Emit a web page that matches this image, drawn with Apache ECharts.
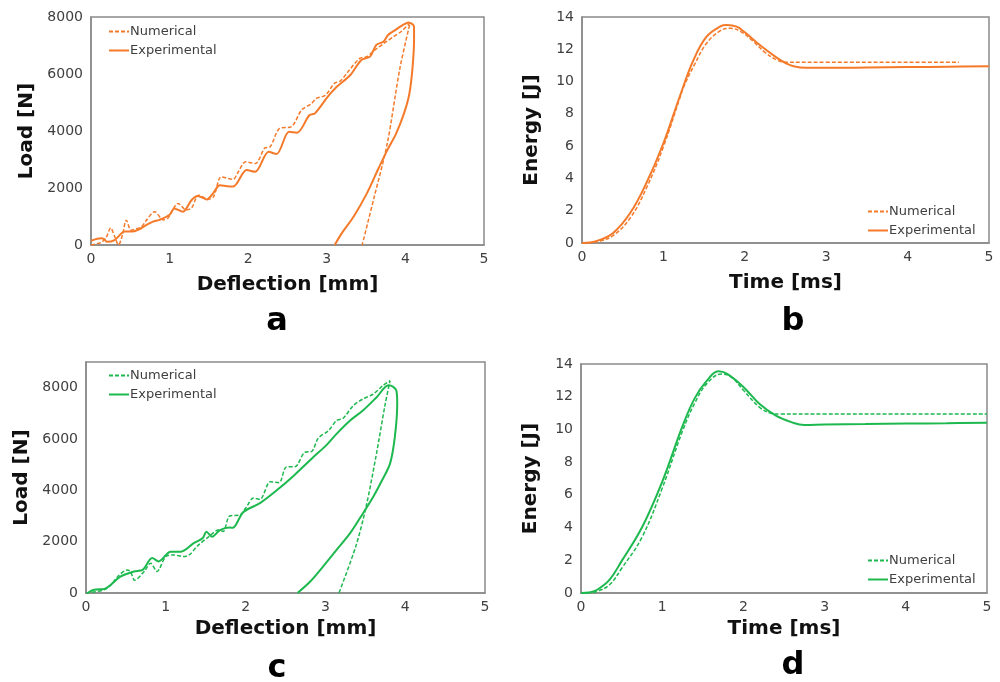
<!DOCTYPE html>
<html>
<head>
<meta charset="utf-8">
<script src="https://cdn.jsdelivr.net/npm/echarts@6/dist/echarts.min.js"></script>
<style>
  html, body { margin: 0; padding: 0; background: #fff; }
  #wrap { position: relative; width: 1000px; height: 682px; }
  .c { position: absolute; width: 500px; height: 341px; }
</style>
</head>
<body>
<div id="wrap">
  <div id="ca" class="c" style="left:0;top:0"></div>
  <div id="cb" class="c" style="left:500px;top:0"></div>
  <div id="cc" class="c" style="left:0;top:341px"></div>
  <div id="cd" class="c" style="left:500px;top:341px"></div>
</div>
<script>
// ---------- Data ----------
// (a) Load vs deflection, orange
const aNumX = [0,0.12,0.19,0.25,0.30,0.35,0.40,0.45,0.51,0.57,0.64,0.70,0.81,0.92,0.98,1.11,1.21,1.28,1.37,1.49,1.56,1.66,1.81,1.86,1.97,2.09,2.21,2.28,2.40,2.55,2.68,2.80,2.87,2.98,3.10,3.17,3.27,3.42,3.51,3.61,3.73,3.85,3.95,4.06,3.93,3.77,3.60,3.45];
const aNumY = [0,80,250,600,300,0,350,870,520,560,640,850,1170,880,950,1460,1230,1300,1750,1600,1700,2390,2300,2500,2920,2860,3400,3450,4090,4150,4740,4950,5150,5250,5680,5750,6080,6550,6610,6840,7080,7310,7500,7800,6200,3570,1650,0];
const aExpX = [0,0.13,0.17,0.20,0.30,0.43,0.53,0.62,0.70,0.79,0.87,1.00,1.06,1.17,1.28,1.36,1.47,1.55,1.64,1.76,1.81,1.98,2.09,2.26,2.36,2.52,2.62,2.78,2.85,3.02,3.13,3.30,3.44,3.55,3.63,3.72,3.78,3.87,3.97,4.04,4.11,4.11,4.09,4.05,3.98,3.88,3.77,3.66,3.51,3.34,3.20,3.10];
const aExpY = [150,235,200,110,175,470,470,560,700,820,880,1060,1280,1170,1580,1720,1600,1800,2100,2050,2050,2630,2570,3270,3190,3970,3940,4560,4620,5230,5560,5965,6490,6610,7020,7134,7370,7540,7720,7810,7660,7190,6200,5300,4600,3900,3330,2700,1810,990,450,0];

// (b) Energy vs time, orange
const bNumX = [0,0.1,0.22,0.38,0.59,0.79,1.0,1.2,1.25,1.39,1.53,1.70,1.82,1.95,2.1,2.25,2.4,2.5,3,4,4.63];
const bNumY = [0,0.02,0.12,0.45,1.53,3.39,5.96,8.95,9.68,11.13,12.37,13.15,13.3,13.1,12.5,11.8,11.32,11.2,11.2,11.2,11.2];
const bExpX = [0,0.1,0.22,0.38,0.59,0.79,1.0,1.2,1.37,1.53,1.70,1.78,1.9,2.0,2.2,2.4,2.5,2.6,2.75,3,3.5,4,4.5,5];
const bExpY = [0,0.03,0.19,0.6,1.84,3.70,6.18,9.06,11.34,12.78,13.42,13.5,13.4,13.05,12.2,11.45,11.15,10.95,10.85,10.85,10.87,10.9,10.92,10.95];

// (c) Load vs deflection, green
const cNumX = [0,0.12,0.23,0.31,0.40,0.52,0.56,0.61,0.73,0.81,0.89,1.00,1.10,1.23,1.30,1.39,1.54,1.66,1.72,1.80,1.93,2.00,2.10,2.18,2.31,2.42,2.51,2.62,2.74,2.83,2.91,3.04,3.14,3.22,3.35,3.47,3.60,3.72,3.81,3.75,3.64,3.51,3.38,3.17];
const cNumY = [0,50,130,300,650,900,820,500,840,1160,840,1420,1480,1420,1500,1810,2200,2450,2400,3000,3040,3300,3700,3650,4330,4300,4910,4920,5480,5520,6030,6330,6720,6800,7300,7560,7750,8080,8270,7370,5430,3360,1810,0];
const cExpX = [0.02,0.10,0.23,0.31,0.43,0.60,0.71,0.83,0.91,1.06,1.19,1.35,1.46,1.51,1.58,1.68,1.80,1.84,1.97,2.18,2.39,2.60,2.85,3.01,3.14,3.31,3.47,3.64,3.79,3.85,3.89,3.90,3.87,3.81,3.71,3.60,3.47,3.31,3.14,2.97,2.81,2.65];
const cExpY = [0,130,155,320,640,840,900,1360,1230,1610,1610,1940,2130,2390,2190,2450,2550,2540,3150,3500,4000,4560,5300,5750,6200,6720,7110,7620,8090,8030,7880,7370,6070,5040,4390,3750,3100,2330,1680,1030,450,0];

// (d) Energy vs time, green
const dNumX = [0,0.1,0.2,0.35,0.5,0.75,1.0,1.25,1.4,1.55,1.73,1.85,2.0,2.2,2.35,2.45,3,4,5];
const dNumY = [0,0.01,0.1,0.5,1.5,3.4,6.4,9.9,11.6,12.8,13.39,13.2,12.4,11.35,10.98,10.94,10.94,10.94,10.94];
const dExpX = [0,0.1,0.2,0.35,0.5,0.75,1.0,1.25,1.4,1.55,1.69,1.8,2.0,2.2,2.4,2.6,2.75,3,3.5,4,4.5,5];
const dExpY = [0,0.03,0.2,0.8,1.95,4.0,6.8,10.2,11.9,12.98,13.55,13.4,12.6,11.55,10.84,10.43,10.27,10.3,10.33,10.36,10.38,10.41];

const xTicks = [0,1,2,3,4,5];
const loadTicks = [0,2000,4000,6000,8000];
const energyTicks = [0,2,4,6,8,10,12,14];
const legendNames = ['Numerical','Experimental'];

// ---------- Rendering ----------
const ORANGE = '#F47A2A';
const GREEN = '#1DB84E';
const FONT = 'DejaVu Sans';
const zip = (xs, ys) => xs.map((x, i) => [x, ys[i]]);

function build(el, cfg) {
  const chart = echarts.init(document.getElementById(el), null, {renderer: 'canvas'});
  const axisCommon = {
    type: 'value',
    axisLine: {show: true, lineStyle: {color: '#8a8a8a', width: 1.5}},
    axisTick: {show: false},
    splitLine: {show: false},
    nameLocation: 'middle',
    nameTextStyle: {fontFamily: FONT, fontWeight: 'bold', fontSize: 20, color: '#111'},
    axisLabel: {fontFamily: FONT, fontSize: 14, color: '#404040'}
  };
  chart.setOption({
    animation: false,
    backgroundColor: '#fff',
    grid: Object.assign({show: true, borderColor: '#8a8a8a', borderWidth: 1.5, containLabel: false}, cfg.grid),
    legend: {
      orient: 'vertical',
      left: cfg.legend[0], top: cfg.legend[1],
      padding: 0, itemGap: 6, itemWidth: 20, itemHeight: 14,
      itemStyle: {opacity: 0},
      textStyle: {fontFamily: FONT, fontSize: 13, color: '#404040', padding: [0,0,0,-4]},
      data: legendNames
    },
    xAxis: Object.assign({}, axisCommon, {
      min: 0, max: 5, interval: 1, name: cfg.xName, nameGap: cfg.xGap,
      axisLabel: Object.assign({}, axisCommon.axisLabel, {margin: 7})
    }),
    yAxis: Object.assign({}, axisCommon, {
      min: 0, max: cfg.yMax, interval: cfg.yInt, name: cfg.yName, nameGap: cfg.yGap,
      axisLabel: Object.assign({}, axisCommon.axisLabel, {
        margin: 8,
        formatter: v => (cfg.yTicks.indexOf(v) >= 0 ? String(v) : '')
      })
    }),
    graphic: [{
      type: 'text', x: cfg.letter[0], y: cfg.letter[1],
      style: {text: cfg.letter[2], x: 0, y: 0, align: 'center', verticalAlign: 'middle',
              font: 'bold 32px "DejaVu Sans"', fill: '#000'}
    }],
    series: [
      {name: legendNames[0], type: 'line', data: cfg.num, showSymbol: false, symbol: 'none',
       smooth: cfg.smooth, lineStyle: {color: cfg.color, width: 1.5, type: [4, 2]}, itemStyle: {color: cfg.color}},
      {name: legendNames[1], type: 'line', data: cfg.exp, showSymbol: false, symbol: 'none',
       smooth: cfg.smooth, lineStyle: {color: cfg.color, width: 2}, itemStyle: {color: cfg.color}}
    ]
  });
}

build('ca', {
  grid: {left: 91, right: 16, top: 17, height: 228},
  legend: [108, 25], xName: 'Deflection [mm]', yName: 'Load [N]', xGap: 30, yGap: 54,
  yMax: 8000, yInt: 2000, yTicks: loadTicks, letter: [277, 322, 'a'],
  num: zip(aNumX, aNumY), exp: zip(aExpX, aExpY), color: ORANGE, smooth: 0.3
});
build('cb', {
  grid: {left: 82, right: 11, top: 17, height: 226},
  legend: [367, 205], xName: 'Time [ms]', yName: 'Energy [J]', xGap: 30, yGap: 40,
  yMax: 14, yInt: 2, yTicks: energyTicks, letter: [293, 322, 'b'],
  num: zip(bNumX, bNumY), exp: zip(bExpX, bExpY), color: ORANGE, smooth: 0.4
});
build('cc', {
  grid: {left: 86, right: 15, top: 21, height: 231},
  legend: [108, 28], xName: 'Deflection [mm]', yName: 'Load [N]', xGap: 25, yGap: 54,
  yMax: 9000, yInt: 1000, yTicks: loadTicks, letter: [277, 328, 'c'],
  num: zip(cNumX, cNumY), exp: zip(cExpX, cExpY), color: GREEN, smooth: 0.3
});
build('cd', {
  grid: {left: 81, right: 13, top: 23, height: 229},
  legend: [367, 213], xName: 'Time [ms]', yName: 'Energy [J]', xGap: 25, yGap: 40,
  yMax: 14, yInt: 2, yTicks: energyTicks, letter: [293, 325, 'd'],
  num: zip(dNumX, dNumY), exp: zip(dExpX, dExpY), color: GREEN, smooth: 0.4
});
</script>
</body>
</html>
